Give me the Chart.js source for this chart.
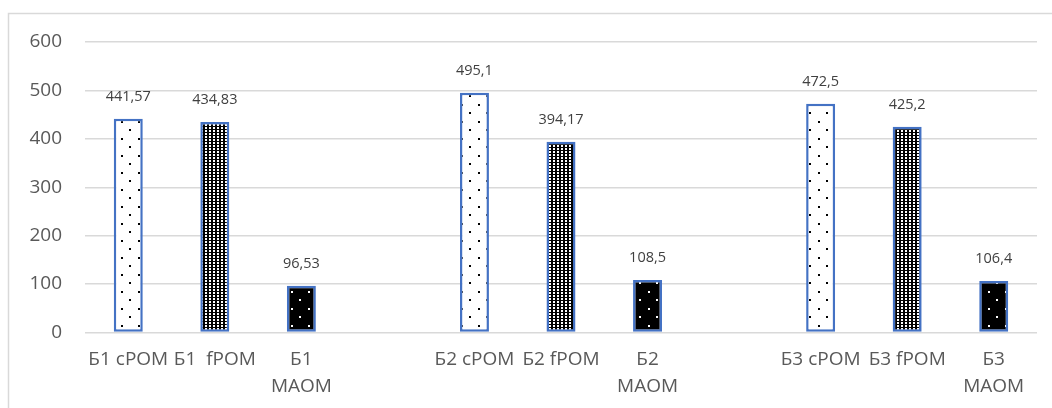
<!DOCTYPE html>
<html>
<head>
<meta charset="utf-8">
<script src="https://cdn.jsdelivr.net/npm/chart.js@4"></script>
<style>
  html, body { margin: 0; padding: 0; background: #ffffff; }
  #wrap { position: relative; width: 1052px; height: 408px; }
</style>
</head>
<body>
<div id="wrap"><canvas id="chart"></canvas></div>
<script>
// Fraction categories per plot (Б1..Б3); empty strings leave a gap between plots
const categories = [
  'Б1 cPOM', 'Б1  fPOM', ['Б1', 'MAOM'], '',
  'Б2 cPOM', 'Б2 fPOM', ['Б2', 'MAOM'], '',
  'Б3 cPOM', 'Б3 fPOM', ['Б3', 'MAOM']
];
const values = [
  441.57, 434.83, 96.53, null,
  495.1, 394.17, 108.5, null,
  472.5, 425.2, 106.4
];
// Fraction type of each category, used to pick the fill pattern
const fractions = [
  'cPOM', 'fPOM', 'MAOM', null,
  'cPOM', 'fPOM', 'MAOM', null,
  'cPOM', 'fPOM', 'MAOM'
];
const yTicks = [0, 100, 200, 300, 400, 500, 600];

function makePattern(w, h, bg, fg, dots) {
  const c = document.createElement('canvas');
  c.width = w; c.height = h;
  const g = c.getContext('2d');
  g.fillStyle = bg; g.fillRect(0, 0, w, h);
  g.fillStyle = fg;
  dots.forEach(d => g.fillRect(d[0], d[1], d[2], d[3]));
  return g.createPattern(c, 'repeat');
}

const ctx = document.getElementById('chart').getContext('2d');
const patterns = {
  cPOM: makePattern(17, 17, '#ffffff', '#000000', [[2, 2, 2, 2], [10, 10, 2, 2]]),
  fPOM: makePattern(4, 3, '#000000', '#ffffff', [[1, 1, 2, 2]]),
  MAOM: makePattern(17, 17, '#000000', '#ffffff', [[2, 2, 2, 2], [10, 10, 2, 2]])
};

const fmt = v => String(v).replace('.', ',');

const frame = {
  id: 'frame',
  beforeDraw(chart) {
    const c = chart.ctx;
    c.save();
    c.strokeStyle = '#d9d9d9';
    c.lineWidth = 1.5;
    c.strokeRect(8.5, 13.5, 1200, 600);
    c.restore();
  }
};

const valueLabels = {
  id: 'valueLabels',
  afterDatasetsDraw(chart) {
    const c = chart.ctx;
    const meta = chart.getDatasetMeta(0);
    c.save();
    c.font = '14.5px "Open Sans"';
    c.fillStyle = '#404040';
    c.textAlign = 'center';
    c.textBaseline = 'middle';
    meta.data.forEach((bar, i) => {
      const v = values[i];
      if (v === null) return;
      c.fillText(fmt(v), bar.x, bar.y - 22);
    });
    c.restore();
  }
};

new Chart(ctx, {
  type: 'bar',
  data: {
    labels: categories,
    datasets: [{
      data: values,
      backgroundColor: fractions.map(f => f ? patterns[f] : 'transparent'),
      borderColor: '#4472C4',
      borderWidth: 2.5,
      borderSkipped: false,
      barPercentage: 0.335,
      categoryPercentage: 1
    }]
  },
  options: {
    responsive: true,
    maintainAspectRatio: false,
    animation: false,
    devicePixelRatio: 1,
    layout: { padding: { left: 0, right: 15, top: 42, bottom: 0 } },
    plugins: {
      legend: { display: false },
      tooltip: { enabled: false }
    },
    scales: {
      x: {
        grid: { display: false, drawTicks: false },
        border: { display: false },
        ticks: {
          color: '#595959',
          font: { family: 'Open Sans', size: 19, lineHeight: 1.42 },
          padding: 14,
          maxRotation: 0,
          autoSkip: false
        },
        afterFit(scale) { scale.height = 75.5; }
      },
      y: {
        min: 0,
        max: 600,
        afterBuildTicks(scale) { scale.ticks = yTicks.map(v => ({ value: v })); },
        grid: { color: '#d9d9d9', lineWidth: 1.5, drawTicks: false },
        border: { display: false },
        ticks: {
          color: '#595959',
          font: { family: 'Open Sans', size: 19 },
          padding: 23
        },
        afterFit(scale) { scale.width = 85; }
      }
    }
  },
  plugins: [frame, valueLabels]
});
</script>
</body>
</html>
